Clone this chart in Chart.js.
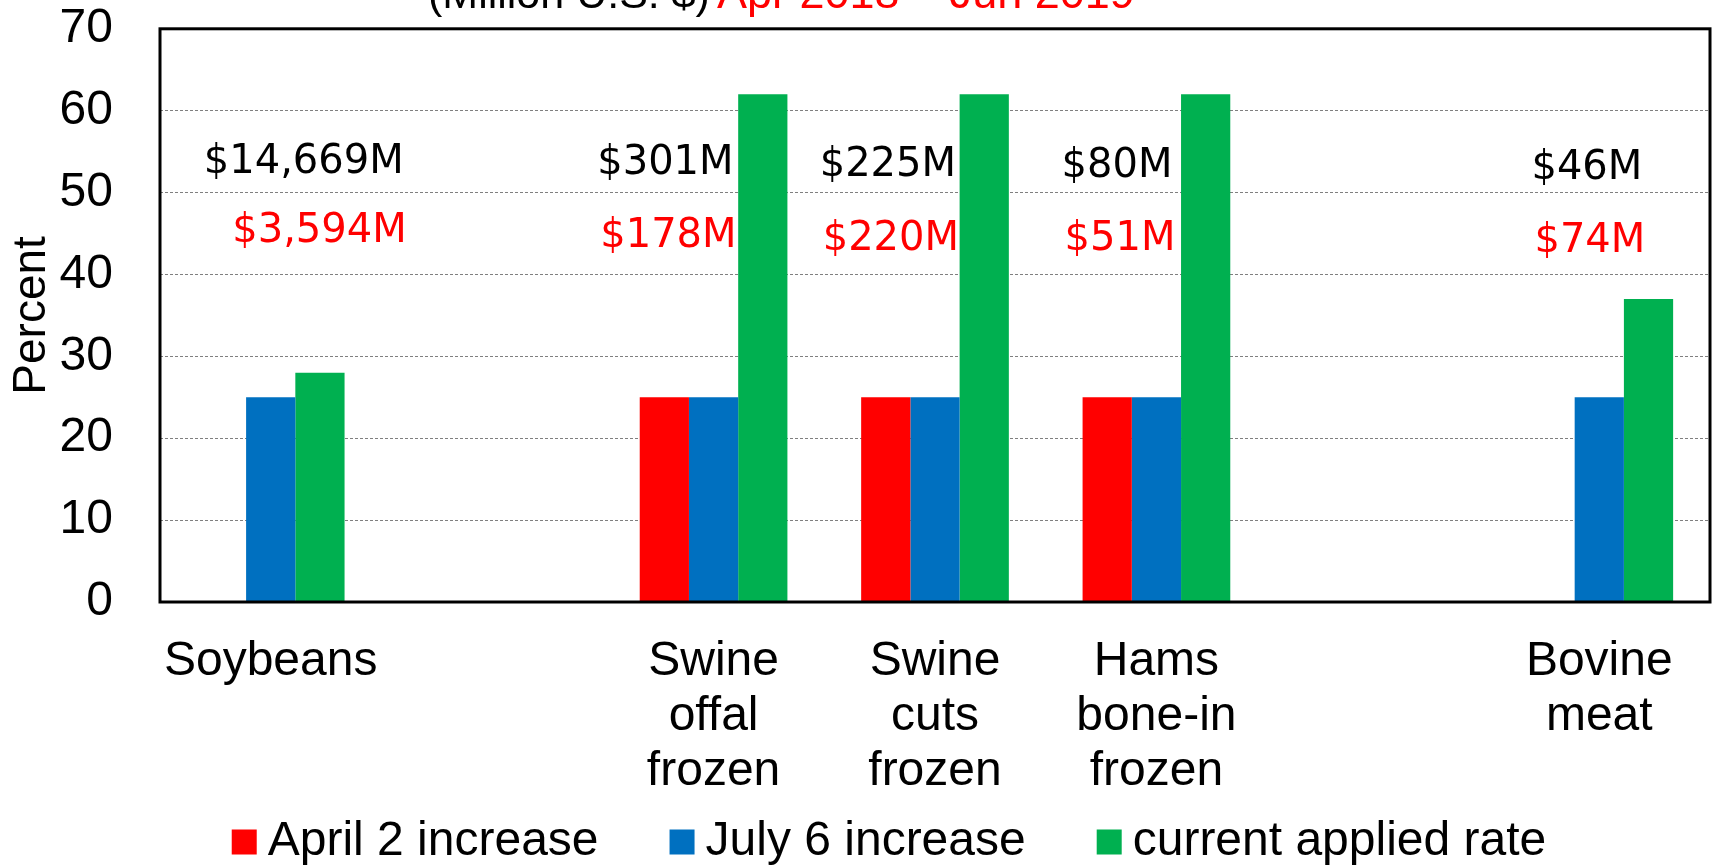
<!DOCTYPE html>
<html>
<head>
<meta charset="utf-8">
<script src="https://cdn.jsdelivr.net/npm/chart.js@4.4.1/dist/chart.umd.min.js"></script>
<style>
  html, body { margin: 0; padding: 0; background: #fff; }
  #wrap { width: 1713px; height: 866px; }
</style>
</head>
<body>
<div id="wrap"><canvas id="chart"></canvas></div>
<script>
// Categorías (las casillas vacías separan los grupos)
const categories = [
  'Soybeans', '', ['Swine', 'offal', 'frozen'], ['Swine', 'cuts', 'frozen'],
  ['Hams', 'bone-in', 'frozen'], '', ['Bovine', 'meat']
];
const april2Increase = [null, null, 25, 25, 25, null, null];
const july6Increase = [25, null, 25, 25, 25, null, 25];
const currentRate = [28, null, 62, 62, 62, null, 37];
const yTicks = [0, 10, 20, 30, 40, 50, 60, 70];

// Montos de comercio (millones US$)
const tradeTop = ['$14,669M', null, '$301M', '$225M', '$80M', null, '$46M'];
const tradeBottom = ['$3,594M', null, '$178M', '$220M', '$51M', null, '$74M'];
const titleBlack = '(Million U.S. $)';
const titleRed = 'Apr 2018 \u2013 Jun 2019';

const FONT = '"Liberation Sans", Arial, sans-serif';
const NOTE_FONT = '"DejaVu Sans", sans-serif';

// Ubicación de los montos: borde derecho (px desde el centro de la categoría)
// y línea base (en unidades del eje Y)
const noteRight = [133, 0, 20, 21, 16, 0, 43];
const noteTopAt = [52.4, 0, 52.25, 52.0, 51.9, 0, 51.6];
const noteBottomAt = [44.0, 0, 43.3, 43.0, 43.0, 0, 42.8];

// Marco negro alrededor del área de la gráfica
const frameBox = {
  id: 'frameBox',
  afterDatasetsDraw(chart) {
    const { ctx, chartArea: a } = chart;
    ctx.save();
    ctx.lineWidth = 3;
    ctx.strokeStyle = '#000';
    ctx.strokeRect(a.left, a.top, a.right - a.left, a.bottom - a.top);
    ctx.restore();
  }
};

// Montos sobre las barras y título recortado arriba
const tradeNotes = {
  id: 'tradeNotes',
  afterDraw(chart) {
    const { ctx, scales: { x, y } } = chart;
    ctx.save();
    ctx.font = '40px ' + NOTE_FONT;
    ctx.textAlign = 'right';
    ctx.textBaseline = 'alphabetic';
    categories.forEach((c, i) => {
      if (!tradeTop[i]) return;
      const px = x.getPixelForValue(i) + noteRight[i];
      ctx.fillStyle = '#000';
      ctx.fillText(tradeTop[i], px, y.getPixelForValue(noteTopAt[i]));
      ctx.fillStyle = '#ff0000';
      ctx.fillText(tradeBottom[i], px + 3, y.getPixelForValue(noteBottomAt[i]));
    });

    ctx.textAlign = 'left';
    ctx.font = '43px ' + FONT;
    ctx.fillStyle = '#000';
    ctx.fillText(titleBlack, 428, 8);
    ctx.font = '45px ' + FONT;
    ctx.fillStyle = '#ff0000';
    ctx.fillText(titleRed, 717, 8);
    ctx.restore();
  }
};

// Leyenda inferior
const bottomLegend = {
  id: 'bottomLegend',
  afterDraw(chart) {
    const ctx = chart.ctx;
    const items = chart.data.datasets;
    const box = 25, gap = 11, spacing = 71, yc = 842;
    ctx.save();
    ctx.font = '48px ' + FONT;
    ctx.textBaseline = 'middle';
    const widths = items.map(d => box + gap + ctx.measureText(d.label).width);
    const total = widths.reduce((a, b) => a + b, 0) + spacing * (items.length - 1);
    let x = 889 - total / 2;
    items.forEach((d, i) => {
      ctx.fillStyle = d.backgroundColor;
      ctx.fillRect(x, yc - box / 2, box, box);
      ctx.fillStyle = '#000';
      ctx.fillText(d.label, x + box + gap, yc);
      x += widths[i] + spacing;
    });
    ctx.restore();
  }
};

new Chart(document.getElementById('chart'), {
  type: 'bar',
  data: {
    labels: categories,
    datasets: [
      { label: 'April 2 increase', data: april2Increase, backgroundColor: '#ff0000' },
      { label: 'July 6 increase', data: july6Increase, backgroundColor: '#0070c0' },
      { label: 'current applied rate', data: currentRate, backgroundColor: '#00b050' }
    ]
  },
  options: {
    responsive: true,
    maintainAspectRatio: false,
    animation: false,
    datasets: {
      bar: { categoryPercentage: 0.667, barPercentage: 1 }
    },
    layout: { padding: { top: 27, right: 3, bottom: 67, left: 0 } },
    plugins: {
      legend: { display: false },
      tooltip: { enabled: false }
    },
    scales: {
      x: {
        afterFit: scale => { scale.height = 197; },
        grid: { display: false, drawTicks: false },
        border: { display: false },
        ticks: {
          color: '#000',
          font: { family: FONT, size: 48, lineHeight: 1.145 },
          padding: 32,
          maxRotation: 0,
          autoSkip: false
        }
      },
      y: {
        min: 0,
        max: 70,
        afterBuildTicks: scale => { scale.ticks = yTicks.map(v => ({ value: v })); },
        afterFit: scale => { scale.width = 160; },
        grid: {
          color: c => (c.tick && (c.tick.value === 0 || c.tick.value === 70)) ? 'rgba(0,0,0,0)' : '#7f7f7f',
          lineWidth: 1,
          drawTicks: true,
          tickLength: 47,
          tickColor: 'rgba(0,0,0,0)'
        },
        border: { display: false, dash: [3, 2] },
        ticks: {
          color: '#000',
          font: { family: FONT, size: 48 },
          padding: 0
        },
        title: {
          display: true,
          text: 'Percent',
          color: '#000',
          font: { family: FONT, size: 46, lineHeight: 1.2 },
          padding: { top: 5, bottom: 0 }
        }
      }
    }
  },
  plugins: [frameBox, tradeNotes, bottomLegend]
});
</script>
</body>
</html>
